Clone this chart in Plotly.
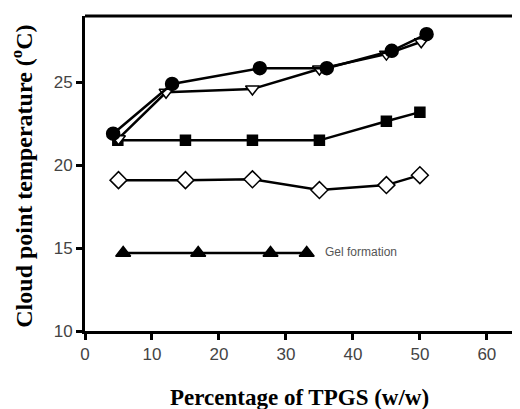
import plotly.graph_objects as go

# Series data (x = % TPGS w/w, y = cloud point temperature °C)
circ_x = [4.2, 13.0, 26.1, 36.1, 45.8, 51.0]
circ_y = [21.9, 24.9, 25.85, 25.85, 26.9, 27.9]

tri_dn_x = [5.0, 12.1, 25.0, 35.0, 45.0, 50.2]
tri_dn_y = [21.6, 24.4, 24.6, 25.8, 26.7, 27.45]

sq_x = [4.9, 15.0, 25.0, 35.0, 45.0, 50.0]
sq_y = [21.5, 21.5, 21.5, 21.5, 22.65, 23.2]

dia_x = [5.0, 15.0, 25.0, 35.0, 45.0, 50.0]
dia_y = [19.1, 19.1, 19.15, 18.5, 18.8, 19.4]

tri_up_x = [5.7, 16.9, 27.7, 33.1]
tri_up_y = [14.7, 14.7, 14.7, 14.7]

x_ticks = [0, 10, 20, 30, 40, 50, 60]
y_ticks = [10, 15, 20, 25]

fig = go.Figure()

def add(x, y, symbol, fill, size):
    fig.add_trace(go.Scatter(
        x=x, y=y, mode="lines+markers",
        line=dict(color="black", width=2.5),
        marker=dict(symbol=symbol, size=size, color=fill,
                    line=dict(color="black", width=1.5)),
        showlegend=False, cliponaxis=False))

add(dia_x, dia_y, "diamond", "white", 13)
add(tri_up_x, tri_up_y, "triangle-up", "black", 13)
add(sq_x, sq_y, "square", "black", 10)
add(tri_dn_x, tri_dn_y, "triangle-down", "white", 12)
add(circ_x, circ_y, "circle", "black", 13)

fig.add_annotation(x=35.5, y=14.75, text="Gel formation", showarrow=False,
                   xanchor="left", yanchor="middle",
                   font=dict(family="Liberation Sans, Arial", size=12, color="#555"))

fig.add_annotation(xref="paper", yref="paper", x=0.495, y=-0.21,
                   text="<b>Percentage of TPGS (w/w)</b>", showarrow=False,
                   xanchor="center", yanchor="middle",
                   font=dict(family="Liberation Serif, Times New Roman", size=23, color="black"))
fig.add_annotation(xref="paper", yref="paper", x=-0.145, y=0.49,
                   text="<b>Cloud point temperature (<sup>o</sup>C)</b>", showarrow=False,
                   textangle=-90, xanchor="center", yanchor="middle",
                   font=dict(family="Liberation Serif, Times New Roman", size=24, color="black"))

# Frame: thick top, thin right
fig.add_shape(type="line", xref="paper", yref="paper", x0=0, x1=1, y0=1, y1=1,
              line=dict(color="black", width=3))
fig.add_shape(type="line", xref="paper", yref="paper", x0=1, x1=1, y0=0, y1=1,
              line=dict(color="#333", width=1.5))

# The page body has an 8px default margin; size and margins compensate for it.
fig.update_layout(
    width=512, height=401,
    margin=dict(l=77, r=1, t=8, b=78),
    paper_bgcolor="white", plot_bgcolor="white",
    font=dict(family="Liberation Sans, Arial", size=17, color="#444"),
    xaxis=dict(range=[0, 64.8], tickvals=x_ticks, showgrid=False, zeroline=False,
               showline=True, linecolor="black", linewidth=3, automargin=False,
               ticks="outside", ticklen=6, tickwidth=3, tickcolor="black"),
    yaxis=dict(range=[10, 29], tickvals=y_ticks, showgrid=False, zeroline=False,
               showline=True, linecolor="black", linewidth=3, automargin=False,
               ticks="outside", ticklen=6, tickwidth=3, tickcolor="black"),
)

fig.write_html("out.html")
